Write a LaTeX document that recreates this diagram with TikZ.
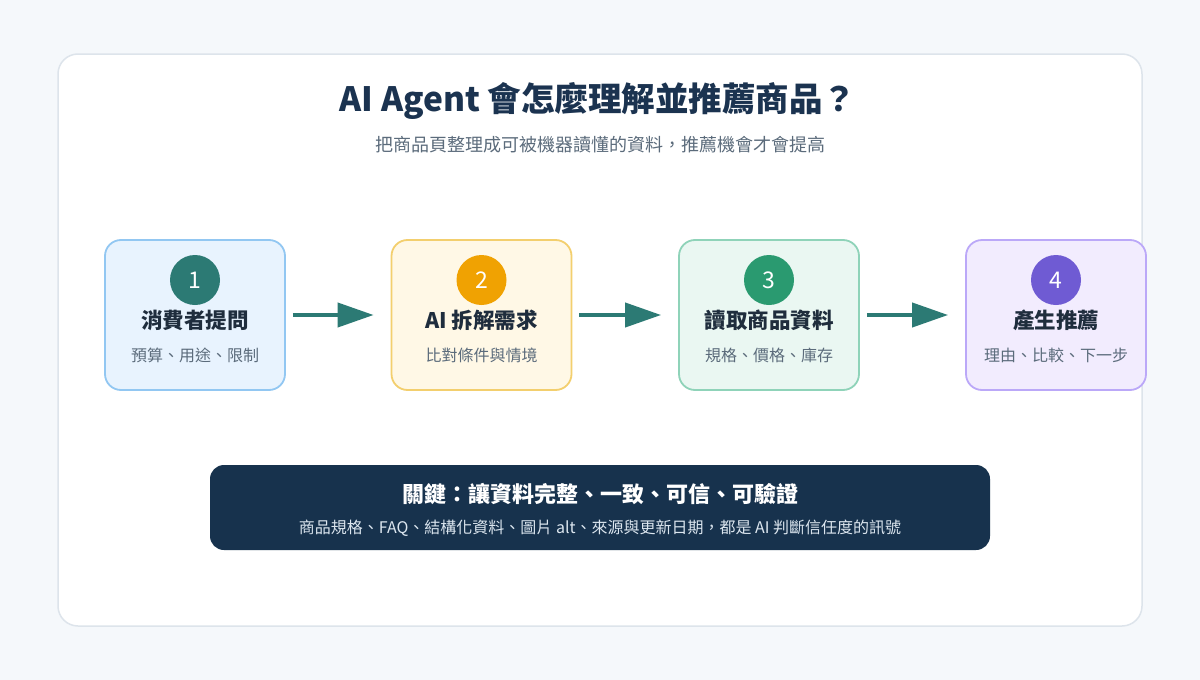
\documentclass[tikz,border=0pt]{standalone}
\usepackage{fontspec}
\setmainfont{Noto Sans CJK TC}
\usepackage{tikz}
\usetikzlibrary{arrows.meta}

\definecolor{pagebg}{HTML}{F5F8FB}
\definecolor{panelline}{HTML}{DDE4EB}
\definecolor{navy}{HTML}{1B3350}
\definecolor{textdark}{HTML}{1F2D3D}
\definecolor{textgray}{HTML}{5B6B7B}
\definecolor{teal}{HTML}{2C7A74}
\definecolor{keybg}{HTML}{17324D}
\definecolor{keysub}{HTML}{DCE6EF}
% card colours
\definecolor{fillA}{HTML}{E8F3FE}\definecolor{lineA}{HTML}{92C7F2}\definecolor{dotA}{HTML}{2C7A74}
\definecolor{fillB}{HTML}{FFF8E6}\definecolor{lineB}{HTML}{F3CF6E}\definecolor{dotB}{HTML}{F0A202}
\definecolor{fillC}{HTML}{EAF7F2}\definecolor{lineC}{HTML}{8FD3B9}\definecolor{dotC}{HTML}{2A9A70}
\definecolor{fillD}{HTML}{F2ECFE}\definecolor{lineD}{HTML}{BBA8F8}\definecolor{dotD}{HTML}{6F5BD3}

\tikzset{
  stepcard/.style={draw, line width=1.8pt, rounded corners=16pt,
    minimum width=180pt, minimum height=150pt},
  numdot/.style={circle, minimum size=50pt, inner sep=0pt, text=white,
    font=\fontsize{23}{25}\selectfont},
  cardtitle/.style={text=textdark, font=\bfseries\fontsize{21.5}{23}\selectfont},
  cardsub/.style={text=textgray, font=\fontsize{16}{18}\selectfont},
  flowarrow/.style={draw=teal, line width=4pt,
    -{Triangle[length=36pt, width=24pt]}, shorten <=7pt, shorten >=17pt}
}

\begin{document}
\begin{tikzpicture}[x=1pt, y=-1pt]
    \useasboundingbox (0,0) rectangle (1200,680);
    \fill[pagebg] (0,0) rectangle (1200,680);
    % main panel
    \draw[panelline, fill=white, line width=1.5pt, rounded corners=20pt] (58,54) rectangle (1142,626);
    \node[text=navy, font=\bfseries\fontsize{33.5}{36}\selectfont] (title) at (598,101) {AI Agent 會怎麼理解並推薦商品？};
    \node[text=textgray, font=\fontsize{18}{20}\selectfont] (subtitle) at (600,145) {把商品頁整理成可被機器讀懂的資料，推薦機會才會提高};
    % four steps
    \foreach \x/\n/\c/\head/\sub in {
        195/1/A/消費者提問/預算、用途、限制,
        481.5/2/B/AI 拆解需求/比對條件與情境,
        769/3/C/讀取商品資料/規格、價格、庫存,
        1056/4/D/產生推薦/理由、比較、下一步}{
        \node[stepcard, draw=line\c, fill=fill\c] (c\n) at (\x,315) {};
        \node[numdot, fill=dot\c] (d\n) at ([yshift=35pt]c\n.center) {\n};
        \node[cardtitle] (t\n) at ([yshift=-5pt]c\n.center) {\head};
        \node[cardsub] (s\n) at ([yshift=-40pt]c\n.center) {\sub};
    }
    \foreach \a/\b in {1/2,2/3,3/4}
        \draw[flowarrow] (c\a) -- (c\b);
    % key message
    \node[fill=keybg, rounded corners=14pt, minimum width=780pt, minimum height=85pt] (key) at (600,507.5) {};
    \node[text=white, font=\bfseries\fontsize{22}{24}\selectfont] (keyhead) at ([yshift=13pt]key.center) {關鍵：讓資料完整、一致、可信、可驗證};
    \node[text=keysub, font=\fontsize{16}{18}\selectfont] (keysub) at ([yshift=-21pt]key.center) {商品規格、FAQ、結構化資料、圖片 alt、來源與更新日期，都是 AI 判斷信任度的訊號};
\end{tikzpicture}
\end{document}
